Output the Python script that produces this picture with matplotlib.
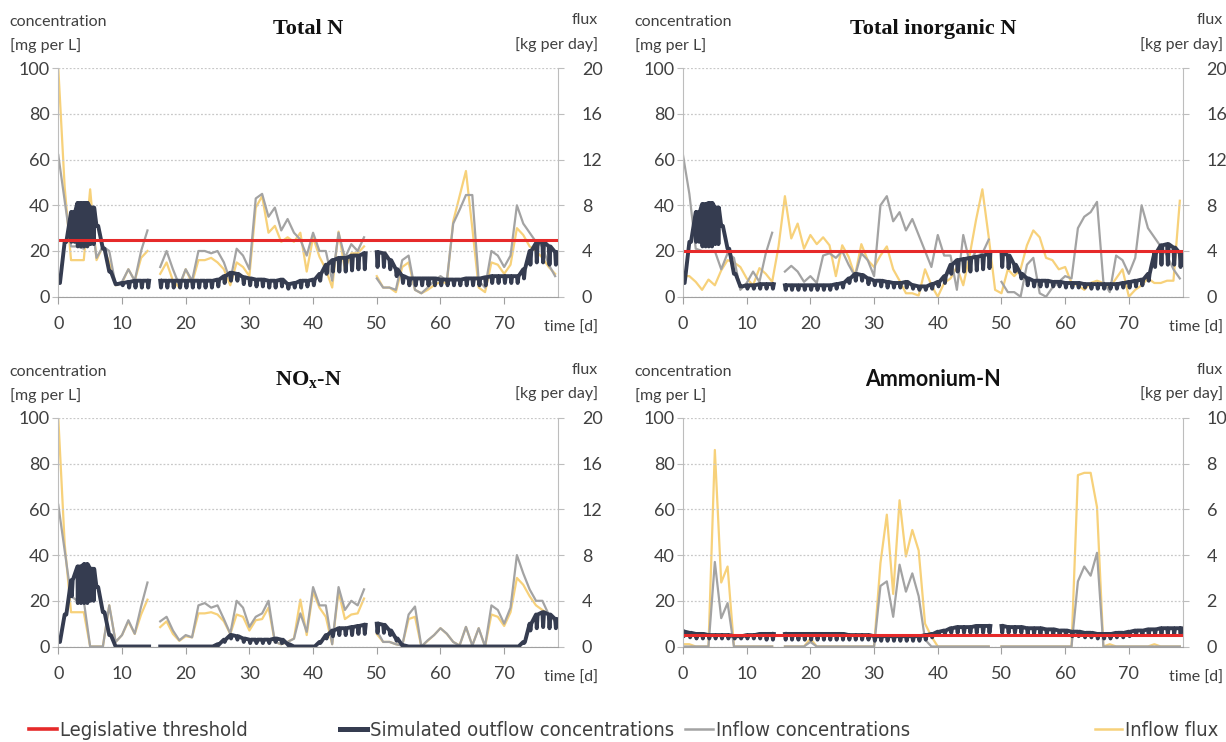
import numpy as np
import matplotlib
matplotlib.use('Agg')
import matplotlib.pyplot as plt
from matplotlib.lines import Line2D

nan = np.nan
days = np.arange(79)

# ---- Total N ----
tn_conc = [62, 42, 22, 22, 21, 38, 17, 22, 20, 5,
           6.5, 12, 7, 20, 29, nan, 13, 20, 12, 5,
           12, 7, 20, 20, 19, 20, 15, 7, 21, 18,
           12, 43, 45, 35, 39, 29, 34, 28, 25, 18,
           28, 20, 20, 7, 28, 17, 23, 20, 26, nan,
           8, 4, 4, 3, 16, 18, 3, 1.5, 4, 7,
           9, 7, 32, 38, 44.5, 44.5, 7, 4, 20, 18,
           13, 18, 40, 32, 28, 24, 22, 14, 9]
tn_flux = [20, 9.6, 3.2, 3.2, 3.2, 9.4, 3.2, 4.4, 3.0, 1.0,
           1.2, 2.4, 1.4, 3.4, 4.0, nan, 2.0, 3.0, 1.4, 0.8,
           2.4, 1.2, 3.2, 3.2, 3.4, 3.0, 2.4, 1.0, 3.0, 2.6,
           1.8, 7.8, 8.8, 5.6, 6.2, 4.8, 5.2, 4.8, 5.6, 2.2,
           5.2, 3.5, 2.4, 0.8, 5.7, 2.4, 3.8, 3.8, 4.4, nan,
           1.8, 0.8, 0.8, 0.4, 2.6, 3.0, 0.6, 0.3, 0.6, 1.0,
           1.3, 1.2, 6.6, 8.8, 11.0, 6.0, 0.8, 0.4, 3.0, 2.8,
           2.0, 2.8, 6.0, 5.4, 4.4, 4.0, 3.4, 2.6, 2.0]
tn_out_hi = [6, 24, 37, 41, 41, 39, 31, 21, 11, 5.5,
             6, 6.5, 7, 7, 7, nan, 7, 7, 7, 7,
             7, 7, 7, 7, 7, 7.5, 9, 10.5, 10, 8.5,
             8, 7.5, 7.5, 7, 7, 7.5, 5.5, 6, 7, 7,
             7.5, 10, 14, 16, 17, 17, 18, 18, 19, nan,
             19.5, 19, 16, 12, 9, 8, 8, 8, 8, 8,
             7.5, 7.5, 7.5, 7.5, 8, 8, 8, 8.5, 9, 9,
             9, 9, 9, 12, 20, 23.5, 24, 22, 19.5]
tn_out_lo = [6, 24, 24, 22, 22, 23, 31, 21, 11, 5.5,
             5, 4, 4, 4, 4, nan, 4, 4, 4, 4,
             4, 4, 4, 4, 4, 4.5, 6, 7, 7, 5.5,
             5, 4.5, 4.5, 4, 4, 4.5, 3.5, 4, 4, 4.5,
             5, 7, 10, 11, 11, 11, 11.5, 12, 12, nan,
             13, 13, 12, 9, 6, 5, 5, 5, 5, 5,
             5, 5, 5, 5, 5, 5, 5, 5, 6, 6,
             6, 6, 6, 8, 14, 15, 15, 14, 14]

# ---- Total inorganic N ----
tin_conc = [62, 45, 21, 20, 20, 20, 12, 19, 17, 3,
            6, 11, 6.5, 19, 28, nan, 11, 13.5, 11, 6.5,
            9, 6, 18, 19, 17, 20, 14, 9, 19, 16,
            9, 40, 44, 33, 37, 29, 34, 27, 20, 13,
            27, 18, 18, 3, 27, 15, 20, 19, 25, nan,
            6.5, 2, 2, 0, 14, 17, 1.5, 0, 4, 6.5,
            9, 8, 30, 35, 37, 41.5, 6.5, 2, 18, 16,
            10, 17, 40, 30, 26, 22, 18, 12, 8]
tin_flux = [1.8, 1.8, 1.3, 0.6, 1.5, 1.0, 2.3, 3.2, 3.0, 2.6,
            1.6, 1.0, 2.5, 2.0, 1.3, 4.4, 8.8, 5.1, 6.4, 4.2,
            5.4, 4.6, 5.2, 4.5, 1.8, 4.5, 3.5, 1.8, 4.6, 3.2,
            2.6, 3.6, 4.4, 2.4, 1.4, 0.3, 0.3, 0.1, 2.4, 1.0,
            0.0, 1.2, 1.6, 2.6, 1.0, 3.6, 6.7, 9.4, 5.2, 0.6,
            0.3, 2.4, 1.8, 2.4, 4.5, 5.8, 5.2, 3.4, 3.2, 2.4,
            2.6, 1.2, 1.0, 0.6, 1.2, 1.4, 1.2, 0.8, 1.6, 2.4,
            0.0, 0.6, 1.0, 1.6, 1.2, 1.2, 1.4, 1.4, 8.4]
tin_out_hi = [6, 24, 37, 40.5, 41, 39, 31, 21, 10, 4.5,
              5, 5, 5.5, 5.5, 5.5, nan, 5, 5, 5, 5,
              5, 5, 5, 5, 5.5, 6, 8, 10, 9.5, 8,
              7, 7, 6.5, 6, 6, 6.5, 5, 4.5, 4.5, 5.5,
              6.5, 9, 14, 16, 16.5, 17, 17.5, 18, 19, nan,
              19.5, 18, 14, 10, 8, 7, 7, 7, 6.5, 6.5,
              6, 6, 6, 5.5, 5.5, 5.5, 5.5, 5.5, 5.5, 6,
              6.5, 7, 7.5, 10, 19, 22.5, 23, 21.5, 19]
tin_out_lo = [6, 24, 24, 22, 22, 23, 31, 21, 10, 4.5,
              3.5, 3.5, 3.5, 3.5, 3.5, nan, 3, 3, 3, 3,
              3, 3, 3, 3, 3.5, 4, 6, 7, 7, 5.5,
              5, 4.5, 4, 4, 4, 4, 3.5, 3, 3, 3.5,
              4.5, 6, 10, 11, 11, 11, 11.5, 12, 12.5, nan,
              13, 12.5, 11, 8, 5, 4.5, 4.5, 4.5, 4.5, 4.5,
              4, 4, 4, 4, 3.5, 3.5, 3.5, 3.5, 3.5, 4,
              4, 4.5, 5, 7, 13, 14, 14, 14, 13]

# ---- NOx-N ----
nox_conc = [62, 42, 22, 20, 20, 0, 0, 0, 18, 2,
            5, 11.5, 5.6, 17.5, 28, nan, 11, 13, 7, 2.7,
            5, 4, 18, 19, 17, 18, 12, 5.6, 20, 17,
            8.6, 13, 14.5, 20, 2, 1, 2, 3.4, 14.5, 6.4,
            26, 18, 18, 1, 26, 16, 20, 18, 25, nan,
            7, 2, 2, 1, 0.4, 14, 17.5, 0, 2.7, 5,
            8, 5.6, 2, 0.4, 8.6, 0.4, 8, 0, 18, 16,
            10, 17, 40, 32, 25, 20, 20, 14, 11]
nox_flux = [20, 9.0, 3.0, 3.0, 3.0, 0, 0, 0, 3.6, 0.4,
            1.0, 2.2, 1.1, 2.8, 4.1, nan, 1.7, 2.2, 1.1, 0.5,
            0.9, 0.8, 2.9, 2.9, 3.0, 2.8, 2.2, 1.1, 2.8, 2.6,
            1.4, 2.3, 2.4, 3.4, 0.4, 0.2, 0.4, 0.7, 4.1, 1.0,
            4.8, 3.4, 2.6, 0.2, 4.8, 2.4, 2.8, 2.9, 4.2, nan,
            1.1, 0.4, 0.4, 0.2, 0.1, 2.4, 2.6, 0, 0.5, 1.0,
            1.6, 1.1, 0.4, 0.1, 1.7, 0.1, 1.6, 0, 2.8, 2.6,
            1.8, 3.0, 6.0, 5.4, 4.4, 3.6, 3.2, 2.8, 2.4]
nox_out_hi = [2, 14, 29, 35, 36, 34, 26, 15, 5, 0,
              0, 0, 0, 0, 0, nan, 0, 0, 0, 0,
              0, 0, 0, 0, 0, 1, 3, 5, 4.5, 3.5,
              3, 3, 3, 3, 3.5, 3, 1, 0, 0, 0,
              0, 2, 5, 7, 8, 8, 8.5, 9, 9.5, nan,
              10, 9.5, 7, 3.5, 0.5, 0, 0, 0, 0, 0,
              0, 0, 0, 0, 0, 0, 0, 0, 0, 0,
              0, 0, 0, 2, 10, 14, 15, 14, 12]
nox_out_lo = [2, 14, 22, 19, 19, 20, 26, 15, 5, 0,
              0, 0, 0, 0, 0, nan, 0, 0, 0, 0,
              0, 0, 0, 0, 0, 0.5, 2, 3.5, 3, 2,
              1.5, 1.5, 1.5, 1.5, 2, 1.5, 0.5, 0, 0, 0,
              0, 1.5, 3.5, 4.5, 5, 5, 5, 5.5, 5.5, nan,
              6, 6, 5, 2.5, 0.5, 0, 0, 0, 0, 0,
              0, 0, 0, 0, 0, 0, 0, 0, 0, 0,
              0, 0, 0, 1.5, 7, 8, 8.5, 8, 8]

# ---- Ammonium-N ----
amm_conc = [0, 0, 0, 0, 0, 37, 12.4, 19, 0, 0,
            0, 0, 0, 0, 0, nan, 0, 0, 0, 0,
            2, 0, 0, 0, 0, 0, 0, 0, 0, 0,
            0, 26.5, 28.5, 13, 35.8, 24, 32, 22, 3, 0,
            0, 0, 0, 0, 0, 0, 0, 0, 0, nan,
            0, 0, 0, 0, 0, 0, 0, 0, 0, 0,
            0, 0, 28.5, 35, 31, 41, 0, 0, 0, 0,
            0, 0, 0, 0, 0, 0, 0, 0, 0]
amm_flux = [0.1, 0.1, 0, 0, 0, 8.6, 2.8, 3.5, 0, 0,
            0, 0, 0, 0, 0, nan, 0, 0, 0, 0,
            0.35, 0, 0, 0, 0, 0, 0, 0, 0, 0,
            0, 3.65, 5.77, 2.3, 6.4, 3.94, 5.1, 4.2, 1.0, 0.44,
            0, 0, 0, 0, 0, 0, 0, 0, 0, nan,
            0, 0, 0, 0, 0, 0, 0, 0, 0, 0,
            0, 0, 7.5, 7.6, 7.6, 6.1, 0, 0.1, 0, 0,
            0, 0, 0, 0, 0.1, 0, 0, 0, 0]
amm_out_hi = [6.5, 6, 5.5, 5.5, 5, 5, 5, 5, 4.5, 4.5,
              5, 5, 5.5, 5.5, 5.5, nan, 5.5, 5.5, 5.5, 5.5,
              5.5, 5.5, 5.5, 5.5, 5.5, 5.5, 5, 5, 5, 5,
              4.5, 4.5, 4.5, 4.5, 4.5, 4.5, 4.5, 4.5, 5, 5.5,
              6.5, 7, 8, 8.5, 8.5, 8.5, 9, 9, 9, nan,
              9, 8.5, 8.5, 8.5, 8, 8, 8, 7.5, 7.5, 7,
              7, 6.5, 6.5, 6, 6, 5.5, 5.5, 5.5, 6, 6,
              6.5, 7, 7, 7.5, 7.5, 8, 8, 8, 8]
amm_out_lo = [4.5, 4, 3.5, 3.5, 3.5, 3.5, 3.5, 3.5, 3.5, 3.5,
              3.5, 3.5, 3.5, 3, 3, nan, 3, 3, 3, 3,
              3, 3, 3, 3, 3, 3, 3, 3, 3, 3,
              2.5, 2.5, 2.5, 2.5, 2.5, 2.5, 2.5, 2.5, 3, 4,
              5, 5.5, 6, 6, 6, 6, 6, 6, 6, nan,
              6, 6, 6, 6, 5.5, 5.5, 5.5, 5.5, 5, 5,
              5, 4.5, 4.5, 4, 4, 3.5, 3.5, 3.5, 4, 4,
              4.5, 5, 5, 5, 5.5, 5.5, 5.5, 5.5, 5.5]

titles = ['Total N', 'Total inorganic N', r'NO$_\mathregular{x}$-N', 'Ammonium-N']
thresholds = [25, 20, None, 5]
flux_max = [20, 20, 20, 10]

RED = '#e62a2a'
DARK = '#353c50'
GREY = '#a3a3a3'
YELLOW = '#f7d17a'
TXT = '#404040'


def sawtooth(hi, lo):
    # daily outflow level joined day to day, with a narrow dip after each
    # day mark (two dips per day where the swing is deep)
    t, v = [], []
    for d in range(len(hi)):
        n = 2 if hi[d] - lo[d] >= 10 else 1
        for k in range(n):
            s = d + k / n
            w = 1 / n
            t += [s, s + 0.12 * w, s + 0.26 * w]
            v += [hi[d], lo[d], hi[d]]
    return t, v


plt.rcParams['font.family'] = ['Lato', 'DejaVu Sans']
plt.rcParams['mathtext.default'] = 'regular'

W, H = 1226, 742
fig = plt.figure(figsize=(W / 100, H / 100), dpi=100)

lefts = [58.3, 683, 58.3, 683]
tops = [68.2, 68.2, 418, 418]
aw, ah = 500, 228.5

panels = [
    (tn_conc, tn_flux, tn_out_hi, tn_out_lo),
    (tin_conc, tin_flux, tin_out_hi, tin_out_lo),
    (nox_conc, nox_flux, nox_out_hi, nox_out_lo),
    (amm_conc, amm_flux, amm_out_hi, amm_out_lo),
]

for i, (conc, flux, hi, lo) in enumerate(panels):
    rect = [lefts[i] / W, 1 - (tops[i] + ah) / H, aw / W, ah / H]
    ax = fig.add_axes(rect)
    ax2 = ax.twinx()
    ax.set_zorder(ax2.get_zorder() + 1)
    ax.patch.set_visible(False)

    ax2.plot(days, flux, color=YELLOW, lw=1.6)
    ax.plot(days, conc, color=GREY, lw=1.6)
    t, v = sawtooth(hi, lo)
    ax.plot(t, v, color=DARK, lw=2.8)
    if thresholds[i] is not None:
        ax.axhline(thresholds[i], color=RED, lw=2.2)

    ax.set_xlim(0, 78.5)
    ax.set_ylim(0, 100)
    ax2.set_ylim(0, flux_max[i])
    ax.set_xticks(range(0, 80, 10))
    ax.set_yticks(range(0, 101, 20))
    fticks = np.linspace(0, flux_max[i], 6)
    ax2.set_yticks(fticks)
    ax2.set_yticklabels([f'{v:g}' for v in fticks])
    ax.yaxis.grid(True, linestyle=(0, (1.5, 1.5)), color='#c8c8c8', lw=0.9)

    for a in (ax, ax2):
        a.spines['top'].set_visible(False)
    ax.spines['right'].set_visible(False)
    ax2.spines['left'].set_visible(False)
    ax2.spines['bottom'].set_visible(False)
    ax.spines['left'].set_color('#bdbdbd')
    ax2.spines['right'].set_color('#bdbdbd')
    ax.spines['bottom'].set_color('#a0a0a0')

    ax.tick_params(axis='y', length=4, color='#bdbdbd', labelsize=13,
                   labelcolor=TXT, pad=2)
    ax.tick_params(axis='x', length=5, color='#a0a0a0', labelsize=13,
                   labelcolor=TXT, pad=9)
    ax2.tick_params(axis='y', length=4, color='#bdbdbd', labelsize=13,
                    labelcolor=TXT, pad=13)

    ax.text(-0.097, 1.20, 'concentration', transform=ax.transAxes,
            ha='left', va='center', fontsize=11.5, color=TXT)
    ax.text(-0.097, 1.10, '[mg per L]', transform=ax.transAxes,
            ha='left', va='center', fontsize=11.5, color=TXT)
    ax.text(1.08, 1.21, 'flux', transform=ax.transAxes,
            ha='right', va='center', fontsize=11.5, color=TXT)
    ax.text(1.08, 1.105, '[kg per day]', transform=ax.transAxes,
            ha='right', va='center', fontsize=11.5, color=TXT)
    ax.text(1.08, -0.137, 'time [d]', transform=ax.transAxes,
            ha='right', va='center', fontsize=11.5, color=TXT)

    if i == 3:
        ax.text(0.5, 1.17, titles[i], transform=ax.transAxes, ha='center',
                va='center', fontsize=15.5, fontweight='bold', color='#111111')
    else:
        ax.text(0.5, 1.17, titles[i], transform=ax.transAxes, ha='center',
                va='center', fontsize=16, fontweight='bold', color='#111111',
                family=['Liberation Serif', 'DejaVu Serif'])

# legend along the bottom
leg_items = [
    ('Legislative threshold', RED, 2.6, 0.024),
    ('Simulated outflow concentrations', DARK, 3.6, 0.277),
    ('Inflow concentrations', GREY, 1.8, 0.559),
    ('Inflow flux', YELLOW, 1.8, 0.893),
]
for label, col, lw, x in leg_items:
    h = Line2D([], [], color=col, lw=lw)
    fig.legend([h], [label], loc='center left', bbox_to_anchor=(x, 0.016),
               frameon=False, handlelength=1.35, handletextpad=0.15,
               borderpad=0, borderaxespad=0,
               prop={'family': 'DejaVu Sans', 'stretch': 'condensed',
                     'size': 14.5},
               labelcolor=TXT)

fig.savefig('out.png', dpi=100)
